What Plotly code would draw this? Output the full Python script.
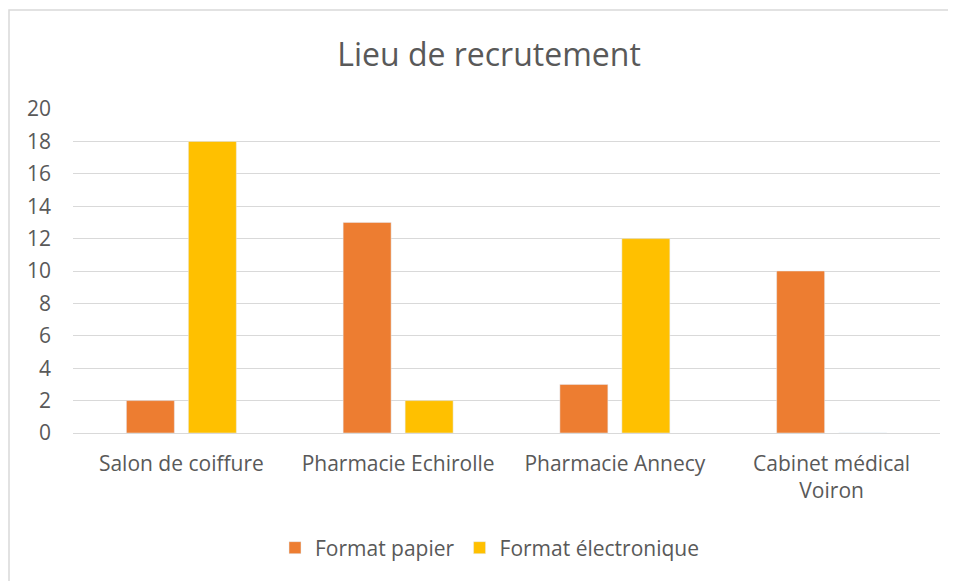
import plotly.graph_objects as go

categories = ["Salon de coiffure", "Pharmacie Echirolle", "Pharmacie Annecy", "Cabinet médical<br>Voiron"]
papier = [2, 13, 3, 10]
electronique = [18, 2, 12, 0]
series_names = ["Format papier", "Format électronique"]
y_ticks = list(range(0, 21, 2))

# page body has an 8px margin, so the figure is shifted by 8px
OFF = 8
W, H = 956 - OFF, 581 - OFF
L, R, T, B = 73 - OFF, 956 - 940, 109 - OFF, 581 - 433
pw, ph = W - L - R, H - T - B

def px_x(x):
    return (x - OFF - L) / pw

def px_y(y):
    return (H - B - (y - OFF)) / ph

fig = go.Figure()
fig.add_trace(go.Bar(x=categories, y=papier, name=series_names[0], marker_color="#ED7D31"))
fig.add_trace(go.Bar(x=categories, y=electronique, name=series_names[1], marker_color="#FFC000"))

font_fam = "Open Sans, Noto Sans, sans-serif"
fig.update_layout(
    width=W, height=H,
    margin=dict(l=L, r=R, t=T, b=B),
    paper_bgcolor="white", plot_bgcolor="white",
    barmode="group", bargap=0.428, bargroupgap=0.226,
    font=dict(family=font_fam, color="#595959", size=21),
    title=dict(text="Lieu de recrutement", x=px_x(489), xref="paper", xanchor="center",
               y=1 - (55 - OFF) / H, yanchor="middle", font=dict(size=32, color="#595959")),
    legend=dict(orientation="h", x=px_x(490), xanchor="center", y=px_y(548), yanchor="middle",
                font=dict(size=21, color="#595959"), itemwidth=30),
    showlegend=True,
    xaxis=dict(showgrid=False, showline=False, ticks="", tickfont=dict(size=21),
               ticklabelstandoff=16),
    yaxis=dict(range=[0, 20], tickvals=y_ticks, showgrid=True, gridcolor="#D9D9D9",
               zeroline=True, zerolinecolor="#D9D9D9", zerolinewidth=1,
               showline=False, ticks="", tickfont=dict(size=21), ticklabelstandoff=21),
    shapes=[dict(type="rect", xref="paper", yref="paper",
                 x0=px_x(9), x1=px_x(970), y0=px_y(600), y1=px_y(10),
                 line=dict(color="#D9D9D9", width=1.5), fillcolor="rgba(0,0,0,0)", layer="below")],
)

fig.write_html("out.html")
